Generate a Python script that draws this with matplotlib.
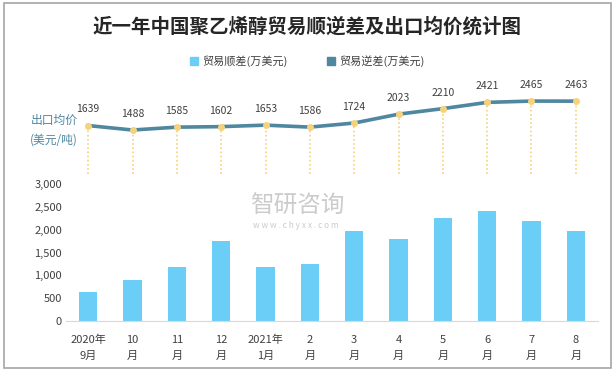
import matplotlib
matplotlib.use('Agg')
import matplotlib.pyplot as plt
from matplotlib.patches import Patch, Rectangle

plt.rcParams['font.family'] = ['Noto Sans CJK SC', 'DejaVu Sans']

# 数据
meses = ['2020年\n9月', '10\n月', '11\n月', '12\n月', '2021年\n1月', '2\n月',
         '3\n月', '4\n月', '5\n月', '6\n月', '7\n月', '8\n月']
shuncha = [635, 900, 1185, 1750, 1190, 1250, 1975, 1800, 2260, 2410, 2190, 1975]
precio = [1639, 1488, 1585, 1602, 1653, 1586, 1724, 2023, 2210, 2421, 2465, 2463]

c_bar = '#6BCEF6'
c_line = '#4F87A1'
c_dot = '#F6D27A'
c_txt = '#404040'

fig = plt.figure(figsize=(6.15, 3.72), dpi=100)

# marco
fig.patches.append(Rectangle((0.006, 0.011), 0.988, 0.981, transform=fig.transFigure,
                             fill=False, edgecolor='#A6A6A6', linewidth=1.2))

# barras
ax = fig.add_axes([66/615, 0.137, 532/615, 0.368])
x = list(range(len(meses)))
ax.bar(x, shuncha, width=0.41, color=c_bar, zorder=2)
ax.set_xlim(-0.5, 11.5)
ax.set_ylim(0, 3000)
ax.set_yticks([0, 500, 1000, 1500, 2000, 2500, 3000])
ax.set_yticklabels(['0', '500', '1,000', '1,500', '2,000', '2,500', '3,000'])
ax.set_xticks(x)
ax.set_xticklabels(meses, linespacing=1.7)
ax.tick_params(axis='both', length=0, labelsize=8, colors=c_txt)
ax.tick_params(axis='y', pad=3)
ax.tick_params(axis='x', pad=10)
for s in ['top', 'right', 'left']:
    ax.spines[s].set_visible(False)
ax.spines['bottom'].set_color('#D9D9D9')

# linea de precios
ax2 = fig.add_axes([66/615, 0.532, 532/615, 0.215])
ax2.set_xlim(-0.5, 11.5)
ax2.set_ylim(0, 2700)
ax2.axis('off')
ax2.vlines(x, 0, precio, colors=c_dot, linestyles=(0, (1, 1.5)), linewidth=1.2)
ax2.plot(x, precio, color=c_line, linewidth=2.6, zorder=3)
ax2.scatter(x, precio, s=16, color=c_dot, zorder=4)
for xi, p in zip(x, precio):
    ax2.annotate(str(p), (xi, p), xytext=(0, 8), textcoords='offset points',
                 ha='center', va='bottom', fontsize=7.5, color=c_txt)

fig.text(54/615, 1 - 130/372, '出口均价\n(美元/吨)', ha='center', va='center',
         fontsize=8.5, color=c_line, linespacing=1.7)

# titulo y leyenda
fig.text(0.5, 1 - 27/372, '近一年中国聚乙烯醇贸易顺逆差及出口均价统计图', ha='center',
         va='center', fontsize=14, fontweight='bold', color='#262626')
handles = [Patch(color=c_bar, label='贸易顺差(万美元)'),
           Patch(color=c_line, label='贸易逆差(万美元)')]
fig.legend(handles=handles, loc='center', bbox_to_anchor=(0.5, 1 - 61/372), ncol=2,
           frameon=False, fontsize=8, handlelength=0.7, handleheight=0.7,
           handletextpad=0.4, columnspacing=3.5, labelcolor=c_txt)

# marca de agua
fig.text(250/615, 1 - 206/372, '智研咨询', ha='left', va='center', fontsize=17,
         color='#BFBFBF', alpha=0.8)
fig.text(253/615, 1 - 226/372, 'w w w . c h y x x . c o m', ha='left', va='center',
         fontsize=6, color='#BFBFBF', alpha=0.8)

plt.savefig('out.png', dpi=100)
